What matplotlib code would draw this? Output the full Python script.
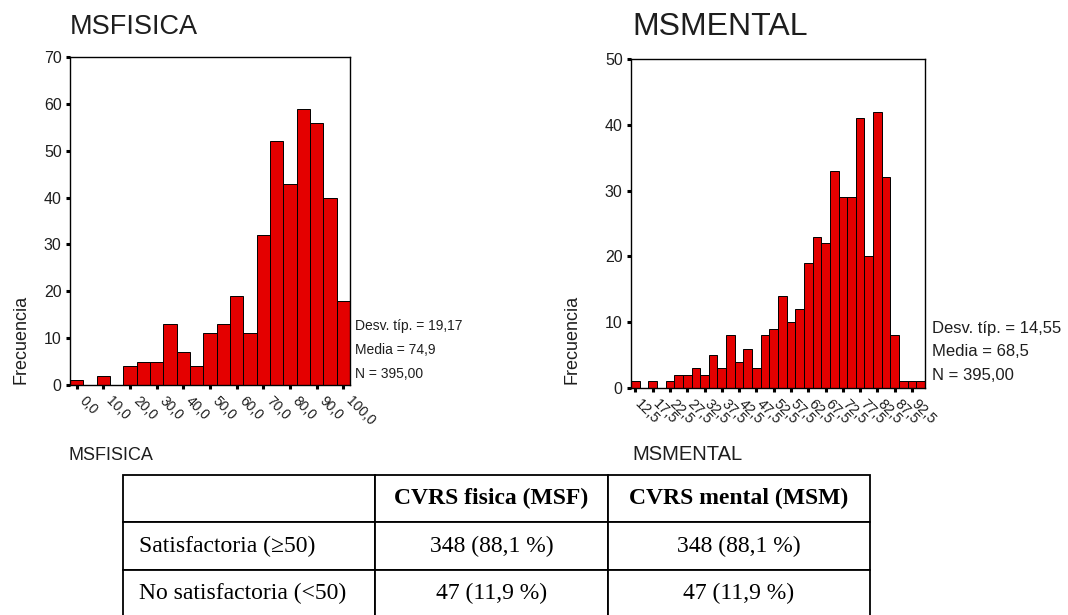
import matplotlib
matplotlib.use('Agg')
import matplotlib.pyplot as plt
import matplotlib.transforms as mtransforms
from matplotlib.table import Table

# ---------------- data ----------------
msf_bin_centers = [0, 5, 10, 15, 20, 25, 30, 35, 40, 45, 50, 55, 60, 65, 70, 75, 80, 85, 90, 95, 100]
msf_counts = [1, 0, 2, 0, 4, 5, 5, 13, 7, 4, 11, 13, 19, 11, 32, 52, 43, 59, 56, 40, 18]
msf_ticks = [0, 10, 20, 30, 40, 50, 60, 70, 80, 90, 100]
msf_tick_labels = ['0,0', '10,0', '20,0', '30,0', '40,0', '50,0', '60,0', '70,0', '80,0', '90,0', '100,0']
msf_yticks = [0, 10, 20, 30, 40, 50, 60, 70]
msf_stats = ['Desv. típ. = 19,17', 'Media = 74,9', 'N = 395,00']

msm_bin_centers = [12.5, 15, 17.5, 20, 22.5, 25, 27.5, 30, 32.5, 35, 37.5, 40, 42.5, 45, 47.5, 50, 52.5,
                   55, 57.5, 60, 62.5, 65, 67.5, 70, 72.5, 75, 77.5, 80, 82.5, 85, 87.5, 90, 92.5, 95]
msm_counts = [1, 0, 1, 0, 1, 2, 2, 3, 2, 5, 3, 8, 4, 6, 3, 8, 9, 14, 10, 12,
              19, 23, 22, 33, 29, 29, 41, 20, 42, 32, 8, 1, 1, 1]
msm_ticks = [12.5, 17.5, 22.5, 27.5, 32.5, 37.5, 42.5, 47.5, 52.5, 57.5, 62.5, 67.5, 72.5, 77.5, 82.5, 87.5, 92.5]
msm_tick_labels = ['12,5', '17,5', '22,5', '27,5', '32,5', '37,5', '42,5', '47,5', '52,5', '57,5',
                   '62,5', '67,5', '72,5', '77,5', '82,5', '87,5', '92,5']
msm_yticks = [0, 10, 20, 30, 40, 50]
msm_stats = ['Desv. típ. = 14,55', 'Media = 68,5', 'N = 395,00']

table_col_labels = ['', 'CVRS fisica (MSF)', 'CVRS mental (MSM)']
table_row_labels = ['Satisfactoria (≥50)', 'No satisfactoria (<50)']
table_msf = ['348 (88,1 %)', '47 (11,9 %)']
table_msm = ['348 (88,1 %)', '47 (11,9 %)']

# ---------------- figure ----------------
W, H = 1068, 615
fig = plt.figure(figsize=(W / 100, H / 100), dpi=100)
fig.patch.set_facecolor('white')
SANS = 'Liberation Sans'
SERIF = 'Liberation Serif'
TXT = '#1e1e1e'
RED = '#e40000'


def fx(px):
    return px / W


def fy(py):
    return 1 - py / H


def style_hist(ax, centers, counts, width, xlim, ylim, ticks, labels, yticks, tick_fs, ytick_fs, xshift):
    ax.bar(centers, counts, width=width, color=RED, edgecolor='black', linewidth=0.7, align='center')
    ax.set_xlim(*xlim)
    ax.set_ylim(*ylim)
    ax.set_xticks(ticks)
    ax.set_xticklabels(labels, rotation=-45, rotation_mode='anchor', ha='left', va='center',
                       fontsize=tick_fs, family=SANS, color=TXT)
    ax.set_yticks(yticks)
    ax.set_yticklabels([str(v) for v in yticks], fontsize=ytick_fs, family=SANS, color=TXT)
    ax.tick_params(axis='both', direction='out', length=3, width=2.2, color='black')
    ax.tick_params(axis='x', pad=7)
    ax.tick_params(axis='y', pad=3)
    offset = mtransforms.ScaledTranslation(xshift / 100, 0, fig.dpi_scale_trans)
    for lab in ax.get_xticklabels():
        lab.set_transform(lab.get_transform() + offset)
    for s in ax.spines.values():
        s.set_linewidth(1.0)
        s.set_color('black')


# left histogram
ax1 = fig.add_axes([fx(70), fy(385), fx(350) - fx(70), (385 - 57) / H])
style_hist(ax1, msf_bin_centers, msf_counts, 5, (-2.5, 102.5), (0, 70),
           msf_ticks, msf_tick_labels, msf_yticks, 10, 11.5, 5)
fig.text(fx(70), fy(27), 'MSFISICA', fontsize=19.5, family=SANS, color=TXT, ha='left', va='center')
fig.text(fx(21), fy(384), 'Frecuencia', rotation=90, fontsize=13, family=SANS, color=TXT,
         ha='center', va='bottom')
for i, s in enumerate(msf_stats):
    fig.text(fx(355), fy(326 + 24 * i), s, fontsize=10, family=SANS, color=TXT, ha='left', va='center')
fig.text(fx(68), fy(455), 'MSFISICA', fontsize=13, family=SANS, color=TXT, ha='left', va='center')

# right histogram
ax2 = fig.add_axes([fx(631), fy(388), fx(925) - fx(631), (388 - 59) / H])
style_hist(ax2, msm_bin_centers, msm_counts, 2.5, (11.25, 96.25), (0, 50),
           msm_ticks, msm_tick_labels, msm_yticks, 10.5, 11.5, 2)
fig.text(fx(632), fy(27), 'MSMENTAL', fontsize=23, family=SANS, color=TXT, ha='left', va='center')
fig.text(fx(572), fy(384), 'Frecuencia', rotation=90, fontsize=13, family=SANS, color=TXT,
         ha='center', va='bottom')
for i, s in enumerate(msm_stats):
    fig.text(fx(932), fy(328 + 24 * i), s, fontsize=12, family=SANS, color=TXT, ha='left', va='center')
fig.text(fx(632), fy(455), 'MSMENTAL', fontsize=14.5, family=SANS, color=TXT, ha='left', va='center')

# table
tax = fig.add_axes([fx(123), fy(617), fx(870) - fx(123), (617 - 475) / H])
tax.set_axis_off()
col_px = [252, 233, 262]
tot = sum(col_px)
widths = [c / tot for c in col_px]
rows = [table_col_labels] + [[r, a, b] for r, a, b in zip(table_row_labels, table_msf, table_msm)]
tab = Table(tax, bbox=[0, 0, 1, 1])
tab.auto_set_font_size(False)
for i, row in enumerate(rows):
    for j, txt in enumerate(row):
        cell = tab.add_cell(i, j, width=widths[j], height=1 / len(rows), text=txt,
                            loc='left' if j == 0 else 'center')
        cell.set_linewidth(1.3)
        cell.set_edgecolor('black')
        cell.set_facecolor('white')
        if j == 0:
            cell.PAD = 0.065
        cell.get_text().set_fontfamily(SERIF)
        cell.get_text().set_fontsize(17)
        cell.get_text().set_color('black')
        if i == 0:
            cell.get_text().set_fontweight('bold')
tax.add_table(tab)

fig.savefig('out.png', dpi=100, facecolor='white')
